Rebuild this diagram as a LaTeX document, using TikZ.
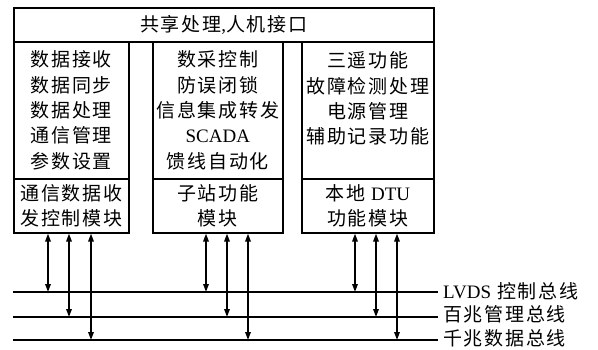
\documentclass[tikz,border=0pt]{standalone}
\usepackage{fontspec}
\setmainfont{Liberation Serif}
\newfontfamily\cjk[LetterSpace=9]{Noto Sans CJK SC}
\usetikzlibrary{arrows.meta}
\begin{document}
\begin{tikzpicture}[x=1pt,y=1pt,
  box/.style={draw, line width=1.6pt, rectangle, inner sep=0pt, anchor=north west, align=center, font=\fontsize{19}{25.3}\selectfont\cjk},
  bus/.style={line width=1.6pt},
  arr/.style={line width=1.6pt, {Triangle[length=8pt,width=5.5pt]}-{Triangle[length=8pt,width=5.5pt]}},
  lbl/.style={anchor=west, inner sep=0pt, font=\fontsize{19}{22}\selectfont\cjk}]
\useasboundingbox (0,0) rectangle (598,-349);

% top box
\node[box, minimum width=420, minimum height=34] (top) at (13,-7) {共享处理{\rmfamily ,}人机接口};

% upper boxes
\node[box, minimum width=115, minimum height=137] (lup) at (13,-41)
  {数据接收\\数据同步\\数据处理\\通信管理\\参数设置};
\node[box, minimum width=130, minimum height=137] (mup) at (152,-41)
  {数采控制\\防误闭锁\\信息集成转发\\{\rmfamily SCADA}\\馈线自动化};
\node[box, minimum width=132, minimum height=137] (rup) at (301,-41)
  {三遥功能\\故障检测处理\\电源管理\\辅助记录功能\\\mbox{}};

% lower boxes
\node[box, minimum width=115, minimum height=54] (lbot) at (13,-178)
  {通信数据收\\发控制模块};
\node[box, minimum width=130, minimum height=54] (mbot) at (152,-178)
  {子站功能\\模块};
\node[box, minimum width=132, minimum height=54] (rbot) at (301,-178)
  {本地 {\rmfamily DTU}\\功能模块};

% buses
\coordinate (b1w) at (13,-292); \coordinate (b1e) at (438,-292);
\coordinate (b2w) at (13,-317); \coordinate (b2e) at (438,-317);
\coordinate (b3w) at (13,-340); \coordinate (b3e) at (438,-340);
\draw[bus] (b1w) -- (b1e);
\draw[bus] (b2w) -- (b2e);
\draw[bus] (b3w) -- (b3e);
\node[lbl] (t1) at ([xshift=5pt,yshift=1pt]b1e) {{\rmfamily LVDS} 控制总线};
\node[lbl] (t2) at ([xshift=5pt,yshift=3pt]b2e) {百兆管理总线};
\node[lbl] (t3) at ([xshift=5pt,yshift=2pt]b3e) {千兆数据总线};

% arrow x positions
\coordinate (xa1) at (48,0);  \coordinate (xa2) at (69,0);  \coordinate (xa3) at (91,0);
\coordinate (xb1) at (206,0); \coordinate (xb2) at (227,0); \coordinate (xb3) at (248,0);
\coordinate (xc1) at (355,0); \coordinate (xc2) at (376,0); \coordinate (xc3) at (397,0);

\draw[arr] (lbot.south -| xa1) -- (b1w -| xa1);
\draw[arr] (lbot.south -| xa2) -- (b2w -| xa2);
\draw[arr] (lbot.south -| xa3) -- (b3w -| xa3);
\draw[arr] (mbot.south -| xb1) -- (b1w -| xb1);
\draw[arr] (mbot.south -| xb2) -- (b2w -| xb2);
\draw[arr] (mbot.south -| xb3) -- (b3w -| xb3);
\draw[arr] (rbot.south -| xc1) -- (b1w -| xc1);
\draw[arr] (rbot.south -| xc2) -- (b2w -| xc2);
\draw[arr] (rbot.south -| xc3) -- (b3w -| xc3);
\end{tikzpicture}
\end{document}
